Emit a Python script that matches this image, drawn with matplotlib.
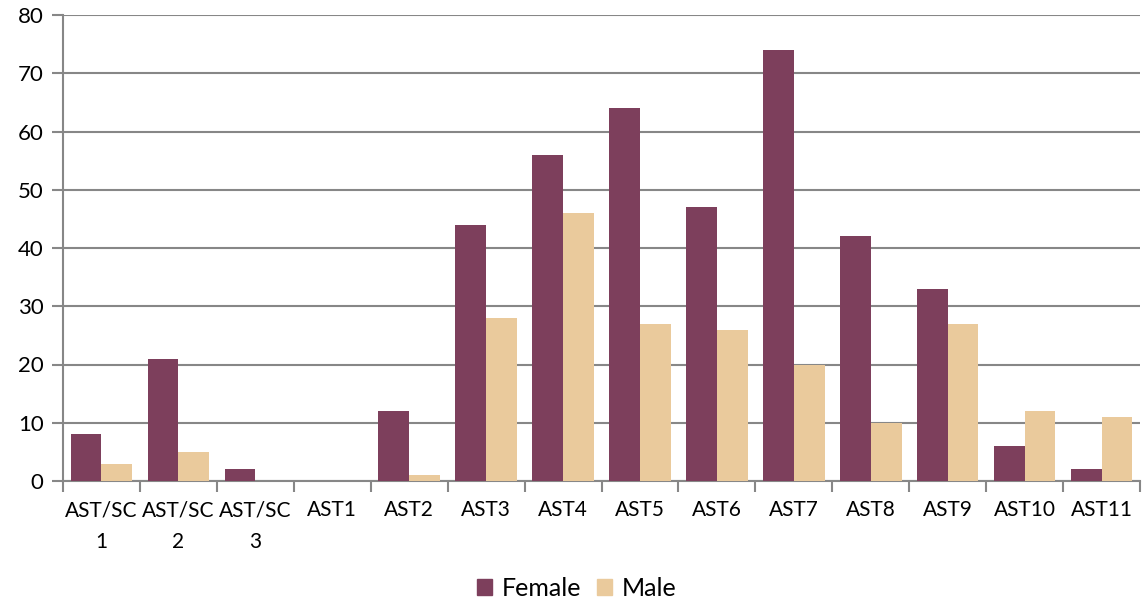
import numpy as np
import matplotlib.pyplot as plt
import matplotlib as mpl
from matplotlib.patches import Patch

categories = ['AST/SC\n1', 'AST/SC\n2', 'AST/SC\n3', 'AST1', 'AST2', 'AST3', 'AST4',
              'AST5', 'AST6', 'AST7', 'AST8', 'AST9', 'AST10', 'AST11']
female = [8, 21, 2, 0, 12, 44, 56, 64, 47, 74, 42, 33, 6, 2]
male = [3, 5, 0, 0, 1, 28, 46, 27, 26, 20, 10, 27, 12, 11]

mpl.rcParams['font.family'] = ['Lato', 'DejaVu Sans']

FEMALE_C = '#7D3F5C'
MALE_C = '#EACA9C'
GREY = '#878787'

fig = plt.figure(figsize=(11.42, 6), dpi=100)
ax = fig.add_axes([63 / 1142, 1 - 481 / 600, 1077 / 1142, 466 / 600])

x = np.arange(len(categories))
w = 0.4
ax.bar(x - w / 2, female, width=w, color=FEMALE_C, zorder=3)
ax.bar(x + w / 2, male, width=w, color=MALE_C, zorder=3)

ax.set_xlim(-0.5, len(categories) - 0.5)
ax.set_ylim(0, 80)
ax.set_yticks(np.arange(0, 81, 10))
ax.grid(axis='y', color=GREY, linewidth=1.5, zorder=0)

for s in ['top', 'right']:
    ax.spines[s].set_visible(False)
for s in ['left', 'bottom']:
    ax.spines[s].set_color(GREY)
    ax.spines[s].set_linewidth(1.5)

# ticks at category boundaries
ax.set_xticks(np.arange(-0.5, len(categories), 1.0), minor=False)
ax.set_xticklabels([])
ax.set_xticks(x, minor=True)
ax.set_xticklabels(categories, minor=True, fontsize=15, linespacing=1.75,
                   va='top')
ax.tick_params(axis='x', which='major', length=8, width=1.5, color=GREY)
ax.tick_params(axis='x', which='minor', length=0, pad=14)
ax.tick_params(axis='y', length=8, width=1.5, color=GREY, labelsize=16, pad=6)

handles = [Patch(color=FEMALE_C, label='Female'), Patch(color=MALE_C, label='Male')]
fig.legend(handles=handles, loc='center', bbox_to_anchor=(0.505, 1 - 588 / 600),
           ncol=2, frameon=False, fontsize=18, handlelength=0.6, handleheight=0.6,
           handletextpad=0.4, columnspacing=0.6)

fig.savefig('out.png', dpi=100, facecolor='white')
